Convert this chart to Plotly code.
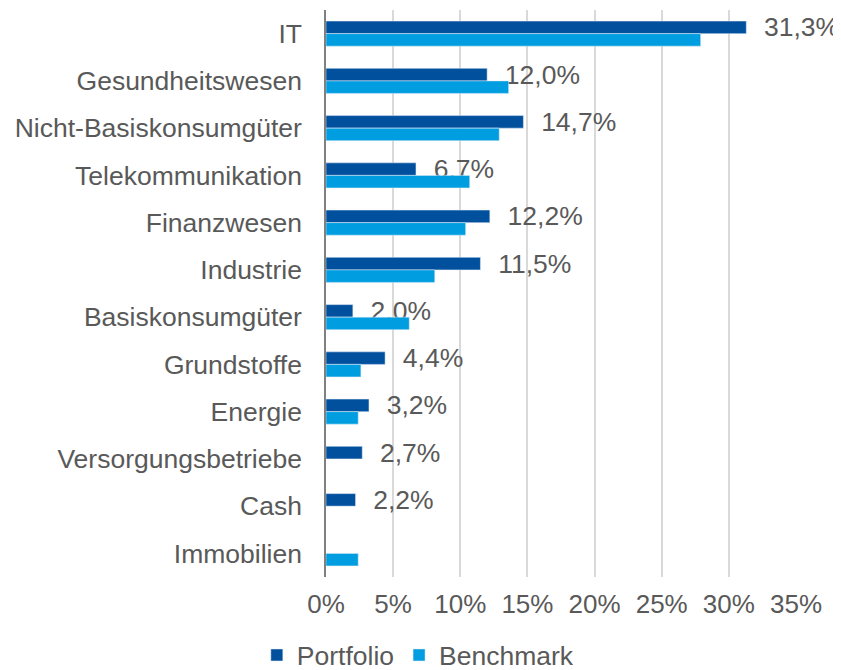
import plotly.graph_objects as go

categories = ["IT", "Gesundheitswesen", "Nicht-Basiskonsumgüter", "Telekommunikation",
              "Finanzwesen", "Industrie", "Basiskonsumgüter", "Grundstoffe", "Energie",
              "Versorgungsbetriebe", "Cash", "Immobilien"]
portfolio = [31.3, 12.0, 14.7, 6.7, 12.2, 11.5, 2.0, 4.4, 3.2, 2.7, 2.2, None]
benchmark = [27.9, 13.6, 12.9, 10.7, 10.4, 8.1, 6.2, 2.6, 2.4, None, None, 2.4]
x_ticks = [0, 5, 10, 15, 20, 25, 30, 35]
x_tick_labels = ["0%", "5%", "10%", "15%", "20%", "25%", "30%", "35%"]

TXT = "#595959"
FONT = "Liberation Sans, Arial, sans-serif"

fig = go.Figure()
fig.add_trace(go.Bar(
    name="Portfolio", y=categories, x=portfolio, orientation="h",
    marker=dict(color="#00509E"),
    texttemplate="\u00a0\u00a0%{x:.1f}%", textposition="outside",
    textfont=dict(size=26.5, color=TXT, family=FONT),
    constraintext="none", cliponaxis=False,
))
fig.add_trace(go.Bar(
    name="Benchmark", y=categories, x=benchmark, orientation="h",
    marker=dict(color="#009EE0"),
))

# page body has an 8px margin: figure occupies (8..841, 8..670)
fig.update_layout(
    width=833, height=662,
    margin=dict(l=318, r=45, t=2, b=93, autoexpand=False),
    barmode="group", bargap=0.47, bargroupgap=0,
    separators=",.",
    plot_bgcolor="white", paper_bgcolor="white",
    font=dict(family=FONT, size=26, color=TXT),
    showlegend=True,
    legend=dict(orientation="h", xref="container", yref="paper",
                x=0.492, xanchor="center", y=-0.138, yanchor="middle",
                font=dict(size=26.5, color=TXT), bgcolor="rgba(0,0,0,0)"),
)
fig.update_xaxes(range=[0, 35], tickvals=x_ticks, ticktext=x_tick_labels,
                 showgrid=True, gridcolor="#D9D9D9", gridwidth=1.5,
                 zeroline=False, showline=False, ticks="", automargin=False,
                 ticklabelstandoff=9, tickfont=dict(size=26, color=TXT))
fig.update_yaxes(autorange="reversed", showgrid=False, ticks="", automargin=False,
                 showline=True, linecolor="#808080", linewidth=1.5,
                 ticklabelstandoff=17, tickfont=dict(size=26.5, color=TXT))

fig.write_html("out.html")
